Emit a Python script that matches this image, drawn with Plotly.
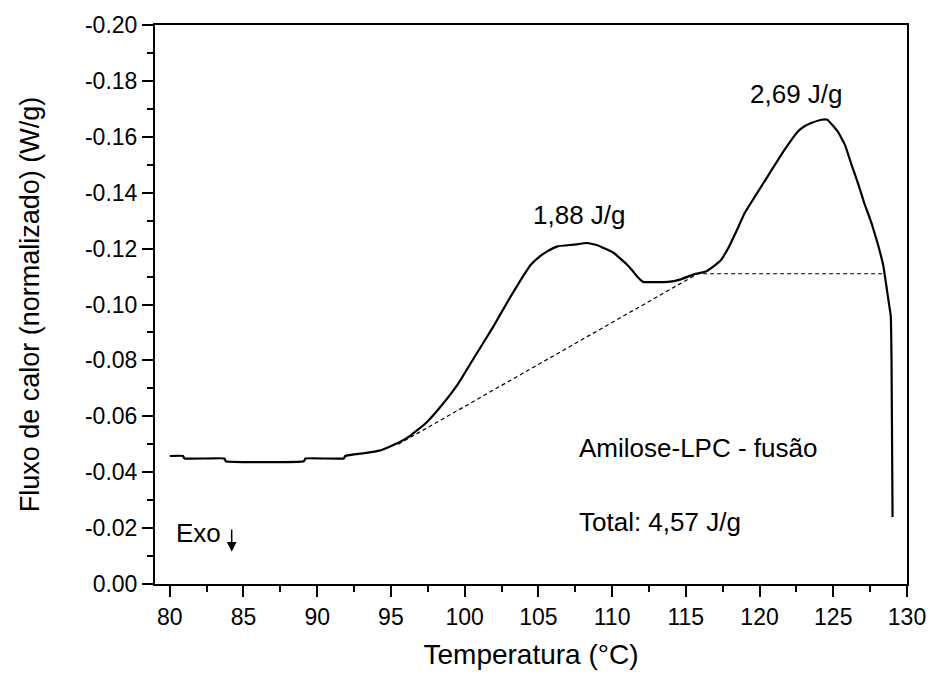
import plotly.graph_objects as go

# DSC curve (Temperatura in °C, heat flow in W/g)
temp = [80.0, 80.9, 81.0, 83.7, 83.8, 89.1, 89.2, 91.8, 91.9, 93.2, 94.3, 95.5,
        96.3, 97.4, 98.5, 99.6, 100.7, 101.9, 103.0, 103.9, 104.5, 105.0, 105.6,
        106.3, 107.4, 108.3, 109.0, 110.1, 111.0, 111.4, 111.7, 112.1, 113.8,
        114.6, 115.5, 116.4, 116.9, 117.4, 117.9, 118.5, 119.0, 120.4, 121.7,
        122.6, 123.0, 123.5, 124.2, 124.6, 125.3, 125.8, 126.2, 126.7, 127.1,
        127.6, 128.0, 128.4, 128.7, 128.9, 128.95, 129.0, 129.02]
flux = [-0.0458, -0.0458, -0.0449, -0.0449, -0.0439, -0.0439, -0.0449, -0.0449,
        -0.0458, -0.0468, -0.0478, -0.0505, -0.0530, -0.0577, -0.0643, -0.0720,
        -0.0815, -0.0917, -0.1018, -0.1096, -0.1143, -0.1168, -0.1190, -0.1208,
        -0.1214, -0.1220, -0.1212, -0.1185, -0.1143, -0.1120, -0.1100, -0.1081,
        -0.1081, -0.1089, -0.1107, -0.1119, -0.1137, -0.1160, -0.1204, -0.1270,
        -0.1328, -0.1446, -0.1554, -0.1619, -0.1636, -0.1649, -0.1661, -0.1661,
        -0.1619, -0.1570, -0.1506, -0.1430, -0.1363, -0.1290, -0.1220, -0.1137,
        -0.1030, -0.0958, -0.0800, -0.0400, -0.0240]

# integration baseline
base_temp = [95.5, 115.8, 128.4]
base_flux = [-0.0500, -0.1110, -0.1110]

x_ticks = [80, 85, 90, 95, 100, 105, 110, 115, 120, 125, 130]
x_ticktext = ["80", "85", "90", "95", "100", "105", "110", "115", "120", "125", "130"]
y_ticks = [0.00, -0.02, -0.04, -0.06, -0.08, -0.10, -0.12, -0.14, -0.16, -0.18, -0.20]
y_ticktext = ["0.00", "-0.02", "-0.04", "-0.06", "-0.08", "-0.10", "-0.12",
              "-0.14", "-0.16", "-0.18", "-0.20"]

FONT = "Liberation Sans, Arial, sans-serif"

fig = go.Figure()
fig.add_trace(go.Scatter(x=base_temp, y=base_flux, mode="lines",
                         line=dict(color="black", width=1.2, dash="4px,3px"),
                         hoverinfo="skip"))
fig.add_trace(go.Scatter(x=temp, y=flux, mode="lines",
                         line=dict(color="black", width=2.2, shape="spline",
                                   smoothing=0.3)))

axis_common = dict(showline=True, linecolor="black", linewidth=2, mirror=True,
                   ticks="outside", ticklen=11, tickwidth=2, tickcolor="black",
                   showgrid=False, zeroline=False,
                   tickfont=dict(family=FONT, size=23, color="black"))

fig.update_xaxes(range=[79, 130], tickvals=x_ticks, ticktext=x_ticktext,
                 minor=dict(dtick=2.5, tick0=80, ticks="outside", ticklen=6,
                            tickwidth=2, tickcolor="black", showgrid=False),
                 title=dict(text="Temperatura (°C)", standoff=16,
                            font=dict(family=FONT, size=28, color="black")),
                 **axis_common)
fig.update_yaxes(range=[0, -0.20], tickvals=y_ticks, ticktext=y_ticktext,
                 minor=dict(dtick=0.01, tick0=0, ticks="outside", ticklen=6,
                            tickwidth=2, tickcolor="black", showgrid=False),
                 title=dict(text="Fluxo de calor (normalizado) (W/g)", standoff=38,
                            font=dict(family=FONT, size=27, color="black")),
                 **axis_common)

ann_font = dict(family=FONT, size=26, color="black")
annotations = [
    dict(x=107.8, y=-0.1321, text="1,88 J/g", showarrow=False, xanchor="center",
         yanchor="middle", font=ann_font),
    dict(x=122.5, y=-0.1754, text="2,69 J/g", showarrow=False, xanchor="center",
         yanchor="middle", font=ann_font),
    dict(x=107.6, y=-0.0486, text="Amilose-LPC - fusão", showarrow=False,
         xanchor="left", yanchor="middle", font=ann_font),
    dict(x=107.6, y=-0.0221, text="Total: 4,57 J/g", showarrow=False,
         xanchor="left", yanchor="middle", font=ann_font),
    dict(x=80.3, y=-0.0182, text="Exo", showarrow=False, xanchor="left",
         yanchor="middle", font=ann_font),
    dict(x=84.2, y=-0.0115, ax=84.2, ay=-0.0200, axref="x", ayref="y",
         xref="x", yref="y", text="", showarrow=True, arrowhead=2,
         arrowsize=1.3, arrowwidth=1.5, arrowcolor="black"),
]
fig.update_layout(width=938, height=677, showlegend=False,
                  margin=dict(l=155, r=21, t=25, b=92),
                  plot_bgcolor="white", paper_bgcolor="white",
                  annotations=annotations)

fig.write_html("out.html")
